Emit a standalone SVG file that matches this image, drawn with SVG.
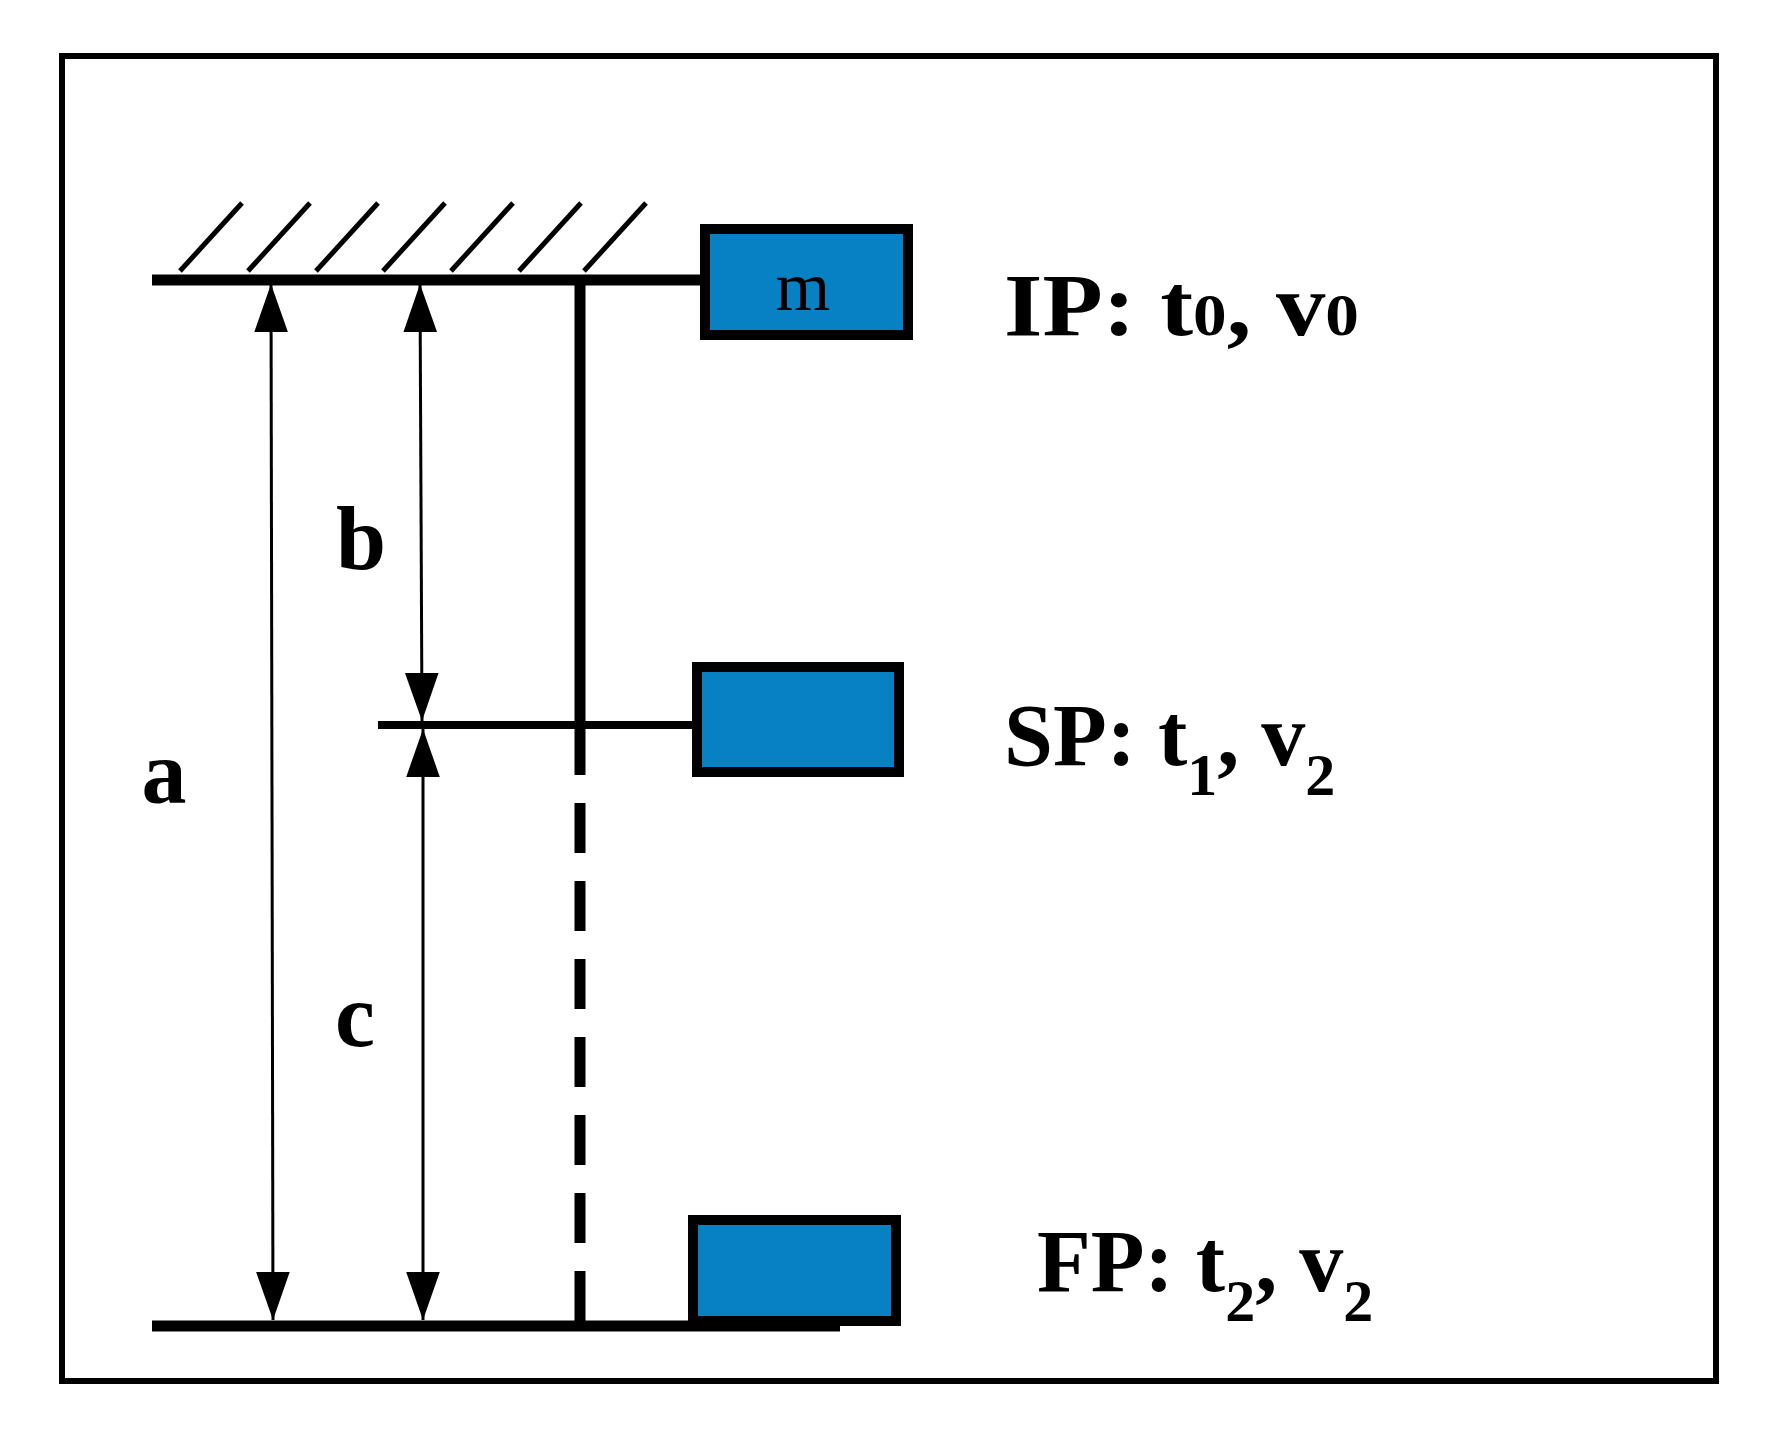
<svg xmlns="http://www.w3.org/2000/svg" width="1768" height="1441" viewBox="0 0 1768 1441">
<style>
.t{font-family:"Liberation Serif",serif;font-weight:bold;fill:#000}
.box{fill:#0880C4;stroke:#000;stroke-width:10}
.dim{stroke:#000;stroke-width:3;fill:none}
</style>
<defs>
<marker id="ah" viewBox="0 0 10 10" refX="10" refY="5" markerWidth="16" markerHeight="16" markerUnits="strokeWidth" orient="auto-start-reverse"><path d="M0,1.5 L10,5 L0,8.5 Z" fill="#000"/></marker>
</defs>
<rect width="1768" height="1441" fill="#fff"/>
<rect x="62" y="56" width="1654" height="1325" fill="none" stroke="#000" stroke-width="6"/>
<g id="connectors" stroke="#000">
<line x1="152" y1="280" x2="705" y2="280" stroke-width="11"/>
<g stroke-width="5">
<line x1="180" y1="271" x2="242" y2="203"/><line x1="248" y1="271" x2="310" y2="203"/><line x1="316" y1="271" x2="378" y2="203"/><line x1="383" y1="271" x2="445" y2="203"/><line x1="451" y1="271" x2="513" y2="203"/><line x1="519" y1="271" x2="581" y2="203"/><line x1="584" y1="271" x2="646" y2="203"/>
</g>
<line x1="580" y1="280" x2="580" y2="725" stroke-width="11"/>
<line x1="580" y1="725" x2="580" y2="1325" stroke-width="11" stroke-dasharray="50,28"/>
<line x1="378" y1="725" x2="700" y2="725" stroke-width="8"/>
<line x1="152" y1="1326" x2="840" y2="1326" stroke-width="11"/>
<line class="dim" x1="271" y1="284" x2="273" y2="1320" marker-start="url(#ah)" marker-end="url(#ah)"/>
<line class="dim" x1="420" y1="284" x2="422" y2="721" marker-start="url(#ah)" marker-end="url(#ah)"/>
<line class="dim" x1="423" y1="729" x2="423" y2="1320" marker-start="url(#ah)" marker-end="url(#ah)"/>
</g>
<g id="IP"><rect class="box" x="705" y="229" width="203" height="106"/><text class="t" x="803" y="310" font-size="70" font-weight="normal" text-anchor="middle" style="font-weight:normal">m</text>
<text class="t" x="1004" y="335" font-size="88" textLength="355" lengthAdjust="spacingAndGlyphs">IP: t<tspan font-size="60">0</tspan>, v<tspan font-size="60">0</tspan></text></g>
<g id="SP"><rect class="box" x="697" y="667" width="202" height="105"/>
<text class="t" x="1004" y="765" font-size="88">SP: t<tspan font-size="60" dy="30">1</tspan><tspan dy="-30">, v</tspan><tspan font-size="60" dy="30">2</tspan></text></g>
<g id="FP"><rect class="box" x="693" y="1220" width="203" height="101"/>
<text class="t" x="1037" y="1291" font-size="88">FP: t<tspan font-size="60" dy="30">2</tspan><tspan dy="-30">, v</tspan><tspan font-size="60" dy="30">2</tspan></text></g>
<text class="t" x="164" y="803" font-size="90" text-anchor="middle">a</text>
<text class="t" x="361" y="569" font-size="90" text-anchor="middle">b</text>
<text class="t" x="355" y="1046" font-size="90" text-anchor="middle">c</text>
</svg>
